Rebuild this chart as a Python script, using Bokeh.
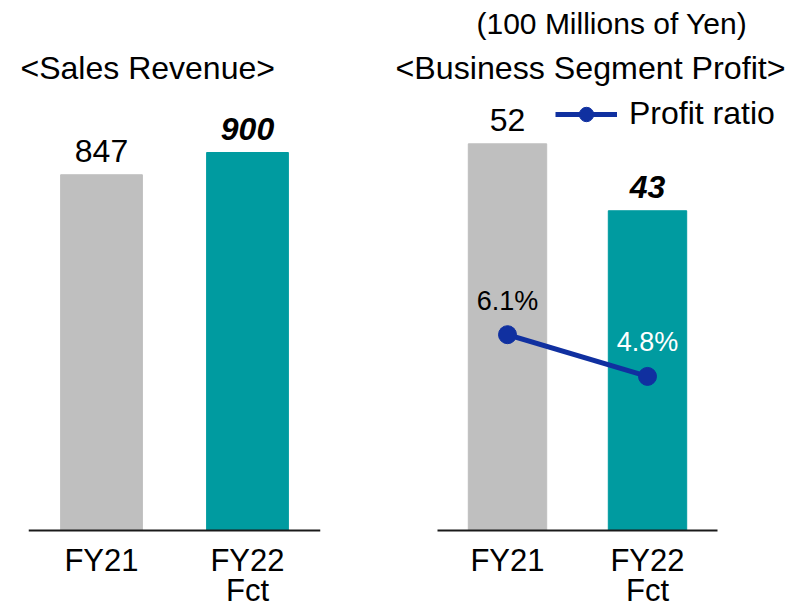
from bokeh.plotting import figure
from bokeh.models import (ColumnDataSource, FactorRange, Range1d, Title, Legend, LegendItem)
from bokeh.layouts import row
from bokeh.embed import file_html
from bokeh.resources import INLINE
from bokeh.core.properties import value

# ---- data ----
categories = ["FY21", "FY22\nFct"]
sales = [847, 900]
profit = [52, 43]
ratio = [6.1, 4.8]
sales_labels = ["847", "900"]
profit_labels = ["52", "43"]
ratio_labels = ["6.1%", "4.8%"]

FONT = "Liberation Sans"
GRAY = "#BFBFBF"
TEAL = "#009BA0"
BLUE = "#1030A0"
bar_colors = [GRAY, TEAL]
label_styles = ["normal", "bold italic"]

H = 610
TOP = 90          # space above the frame (titles)
BASE = 530        # baseline position (px from top)
ABOVE = BASE - TOP
BELOW = H - BASE


def base_fig(width, left, right, px_per_unit, x_pad):
    p = figure(x_range=FactorRange(*categories, range_padding=x_pad,
                                   range_padding_units="absolute"),
               y_range=Range1d(-BELOW / px_per_unit, ABOVE / px_per_unit),
               width=width, height=H,
               output_backend="svg", toolbar_location=None, y_axis_location=None,
               min_border_left=left, min_border_right=right,
               min_border_top=TOP, min_border_bottom=0)
    p.outline_line_color = None
    p.grid.visible = False
    p.background_fill_color = "white"
    p.border_fill_color = "white"
    ax = p.xaxis[0]
    ax.fixed_location = 0
    ax.bounds = (0, len(categories))
    ax.axis_line_color = "#1a1a1a"
    ax.axis_line_width = 2
    ax.major_tick_line_color = None
    ax.minor_tick_line_color = None
    ax.major_tick_out = 0
    ax.major_tick_in = 0
    ax.major_label_standoff = 12
    ax.major_label_text_font = FONT
    ax.major_label_text_font_size = "31px"
    ax.major_label_text_line_height = 0.88
    ax.major_label_text_color = "black"
    return p


def add_title(p, text, size, offset, standoff):
    p.add_layout(Title(text=text, text_font=FONT, text_font_size=size,
                       text_font_style="normal", text_color="black", align="left",
                       offset=offset, standoff=standoff), "above")


# ---- left: sales revenue (frame x 28..320) ----
p1 = base_fig(369, 28, 49, 0.42, 0)
src1 = ColumnDataSource(dict(x=categories, y=sales, c=bar_colors, t=sales_labels, s=label_styles))
p1.vbar(x="x", top="y", width=0.56, color="c", source=src1)
p1.text(x="x", y="y", text="t", source=src1, text_font=value(FONT), text_font_size="32px",
        text_font_style="s", text_align="center", text_baseline="middle", y_offset=-24,
        text_color="black")
add_title(p1, "<Sales Revenue>", "32px", -8, 10)

# ---- right: business segment profit (frame x 369..785, axis 437..717) ----
p2 = base_fig(416, 0, 0, 7.436, 68 / 140)
p2.extra_y_ranges = {"ratio": Range1d(-BELOW / 32.1, ABOVE / 32.1)}
src2 = ColumnDataSource(dict(x=categories, y=profit, c=bar_colors, t=profit_labels, s=label_styles))
p2.vbar(x="x", top="y", width=0.56, color="c", source=src2)
p2.text(x="x", y="y", text="t", source=src2, text_font=value(FONT), text_font_size="32px",
        text_font_style="s", text_align="center", text_baseline="middle", y_offset=-24,
        text_color="black")
src3 = ColumnDataSource(dict(x=categories, y=ratio, t=ratio_labels, tc=["black", "white"]))
ln = p2.line(x="x", y="y", source=src3, y_range_name="ratio", line_color=BLUE, line_width=5)
sc = p2.scatter(x="x", y="y", source=src3, y_range_name="ratio", size=18,
                fill_color=BLUE, line_color=BLUE)
p2.text(x="x", y="y", text="t", source=src3, y_range_name="ratio", text_font=value(FONT),
        text_font_size="27px", text_align="center", text_baseline="middle", y_offset=-34,
        text_color="tc")
add_title(p2, "<Business Segment Profit>", "32.2px", 26, 10)
add_title(p2, "(100 Millions of Yen)", "30px", 107, 6)

legend = Legend(items=[LegendItem(label="Profit ratio", renderers=[ln, sc])],
                location=(555 - 369, (H - 114) - 18), orientation="horizontal",
                glyph_width=62, glyph_height=36, label_height=36, label_standoff=12,
                padding=0, margin=0, spacing=0, border_line_alpha=0,
                background_fill_alpha=0, label_text_font=FONT, label_text_font_size="32px",
                label_text_color="black")
p2.add_layout(legend)

layout = row(p1, p2)
open("out.html", "w").write(file_html(layout, INLINE))
